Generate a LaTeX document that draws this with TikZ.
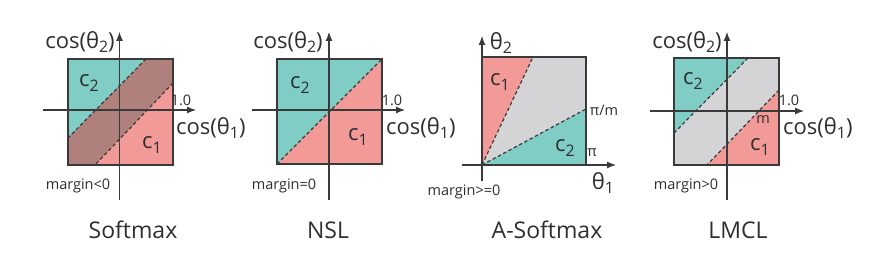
\documentclass[tikz,border=0pt]{standalone}
\usepackage{fontspec}
\setmainfont{Open Sans}
\usetikzlibrary{arrows.meta}
\definecolor{teal2}{HTML}{7FCDC5}
\definecolor{pink2}{HTML}{F29A97}
\definecolor{band}{HTML}{AF807C}
\definecolor{grey2}{HTML}{D4D4D6}
\definecolor{frame}{HTML}{3A3A3A}
\definecolor{ink}{HTML}{2E2E2E}
\newcommand\lowsub[1]{\raisebox{-0.42ex}{\scalebox{0.72}{#1}}}
\tikzset{
  box/.style={draw=frame, line width=1.3pt},
  axis/.style={draw=frame, line width=1.1pt, -{Latex[length=9pt,width=7pt]}},
  bound/.style={draw=frame, line width=1.2pt, dash pattern=on 3.5pt off 2.5pt},
  axlab/.style={font=\fontsize{22}{22}\selectfont, text=ink, inner sep=0pt},
  cls/.style={font=\fontsize{22}{22}\selectfont, text=ink, inner sep=0pt},
  small/.style={font=\fontsize{14.5}{14.5}\selectfont, text=ink, inner sep=0pt},
  title/.style={font=\fontsize{23}{23}\selectfont, text=ink, inner sep=0pt},
}
\begin{document}
\begin{tikzpicture}[x=1pt,y=-1pt]
\useasboundingbox (0,0) rectangle (880,272);
% ---------- Softmax ----------
\coordinate (s1a) at (68,59); \coordinate (s1b) at (173,165);
\fill[teal2] (68,59) rectangle (173,165);
\fill[band] (146,59) -- (173,59) -- (173,83) -- (95,165) -- (68,165) -- (68,138) -- cycle;
\fill[pink2] (173,83) -- (173,165) -- (95,165) -- cycle;
\draw[bound] (146,59) -- (68,138);
\draw[bound] (173,83) -- (95,165);
\draw[box] (s1a) rectangle (s1b);
\coordinate (s1xl) at (43,110); \coordinate (s1xr) at (196,110);
\coordinate (s1yb) at (119.5,200); \coordinate (s1yt) at (119.5,32);
\draw[axis] (s1xl) -- (s1xr);
\draw[axis] (s1yb) -- (s1yt);
\node[axlab] (s1l2) at (80,42) {cos(θ\lowsub{2})};
\node[axlab, anchor=west] (s1l1) at (176,128) {cos(θ\lowsub{1})};
\node[cls] (s1c2) at (89,83) {c\lowsub{2}};
\node[cls] (s1c1) at (152,145) {c\lowsub{1}};
\node[small] (s1one) at (181,100) {1.0};
\node[small] (s1m) at (78,186) {margin<0};
\node[title] (s1t) at (133,230) {Softmax};
% ---------- NSL ----------
\coordinate (s2a) at (277,59); \coordinate (s2b) at (382,164);
\fill[teal2] (277,59) rectangle (382,164);
\fill[pink2] (382,59) -- (382,164) -- (277,164) -- cycle;
\draw[bound] (277,164) -- (382,59);
\draw[box] (s2a) rectangle (s2b);
\coordinate (s2xl) at (252,110); \coordinate (s2xr) at (405,110);
\coordinate (s2yb) at (329,200); \coordinate (s2yt) at (329,32);
\draw[axis] (s2xl) -- (s2xr);
\draw[axis] (s2yb) -- (s2yt);
\node[axlab] (s2l2) at (288,42) {cos(θ\lowsub{2})};
\node[axlab, anchor=west] (s2l1) at (386,128) {cos(θ\lowsub{1})};
\node[cls] (s2c2) at (300,85) {c\lowsub{2}};
\node[cls] (s2c1) at (358,137) {c\lowsub{1}};
\node[small] (s2one) at (392,100) {1.0};
\node[small] (s2m) at (284,186) {margin=0};
\node[title] (s2t) at (328,230) {NSL};
% ---------- A-Softmax ----------
\coordinate (s3a) at (482,57); \coordinate (s3b) at (586,165);
\fill[grey2] (482,57) rectangle (586,165);
\fill[pink2] (482,165) -- (482,57) -- (533,57) -- cycle;
\fill[teal2] (482,165) -- (586,109) -- (586,165) -- cycle;
\draw[bound] (482,165) -- (533,57);
\draw[bound] (482,165) -- (586,109);
\draw[box] (s3a) rectangle (s3b);
\coordinate (s3xl) at (462,165); \coordinate (s3xr) at (616,165);
\coordinate (s3yb) at (482,181); \coordinate (s3yt) at (482,36);
\draw[axis] (s3xl) -- (s3xr);
\draw[axis] (s3yb) -- (s3yt);
\node[axlab] (s3l2) at (501,43) {θ\lowsub{2}};
\node[axlab] (s3l1) at (603,183) {θ\lowsub{1}};
\node[cls] (s3c1) at (500,82) {c\lowsub{1}};
\node[cls] (s3c2) at (565,148) {c\lowsub{2}};
\node[small] (s3pm) at (604,110) {π/m};
\node[small] (s3pi) at (592,153) {π};
\node[small] (s3m) at (464,192) {margin>=0};
\node[title] (s3t) at (547,230) {A-Softmax};
% ---------- LMCL ----------
\coordinate (s4a) at (674,58); \coordinate (s4b) at (779,165);
\fill[grey2] (674,58) rectangle (779,165);
\fill[teal2] (674,58) -- (748,58) -- (674,133) -- cycle;
\fill[pink2] (779,90) -- (779,165) -- (707,165) -- cycle;
\draw[bound] (748,58) -- (674,133);
\draw[bound] (779,90) -- (707,165);
\draw[box] (s4a) rectangle (s4b);
\coordinate (s4xl) at (650,111); \coordinate (s4xr) at (804,111);
\coordinate (s4yb) at (727,200); \coordinate (s4yt) at (727,32);
\draw[axis] (s4xl) -- (s4xr);
\draw[axis] (s4yb) -- (s4yt);
\node[axlab] (s4l2) at (687,42) {cos(θ\lowsub{2})};
\node[axlab, anchor=west] (s4l1) at (783,128) {cos(θ\lowsub{1})};
\node[cls] (s4c2) at (693,81) {c\lowsub{2}};
\node[cls] (s4c1) at (760,147) {c\lowsub{1}};
\node[small] (s4mm) at (763,120) {m};
\node[small] (s4one) at (789,100) {1.0};
\node[small] (s4m) at (686,186) {margin>0};
\node[title] (s4t) at (738,230) {LMCL};
\end{tikzpicture}
\end{document}
